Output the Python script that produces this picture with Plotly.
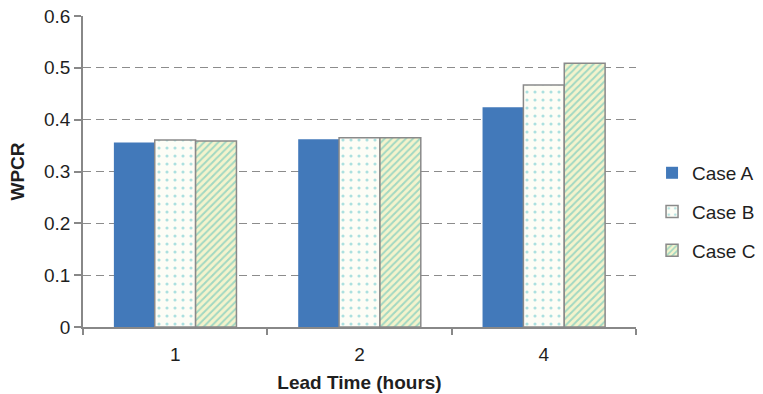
import plotly.graph_objects as go

categories = ["1", "2", "4"]
case_a = [0.356, 0.362, 0.424]
case_b = [0.361, 0.365, 0.467]
case_c = [0.359, 0.365, 0.509]
y_ticks = [0, 0.1, 0.2, 0.3, 0.4, 0.5, 0.6]
y_tick_text = ["0", "0.1", "0.2", "0.3", "0.4", "0.5", "0.6"]

FONT = "Liberation Sans, Arial, sans-serif"
TXT = "#1f1f1f"

fig = go.Figure()
fig.add_trace(go.Bar(
    name="Case A", x=categories, y=case_a, legendgroup="a",
    marker=dict(color="#4279BA", line=dict(width=0)),
))
fig.add_trace(go.Bar(
    name="Case B", x=categories, y=case_b, legendgroup="b",
    marker=dict(color="#FDFDF6", line=dict(color="#8A8A8A", width=1.5),
                pattern=dict(shape=".", fgcolor="#5CC3C8", bgcolor="#FDFDF6",
                             size=8, solidity=0.12)),
))
fig.add_trace(go.Bar(
    name="Case C", x=categories, y=case_c, legendgroup="c",
    marker=dict(color="#F4F3CC", line=dict(color="#8A8A8A", width=1.5),
                pattern=dict(shape="/", fgcolor="#4FBDB8", bgcolor="#F4F3CC",
                             size=5, solidity=0.4)),
))

fig.update_layout(
    width=763, height=394,
    margin=dict(l=83, r=127, t=16, b=67, autoexpand=False),
    paper_bgcolor="white", plot_bgcolor="white",
    barmode="group", bargap=0.335, bargroupgap=0,
    font=dict(family=FONT, size=20, color=TXT),
    showlegend=True,
    legend=dict(x=1.029, y=0.37, xanchor="left", yanchor="middle",
                font=dict(size=19, color=TXT),
                traceorder="grouped", tracegroupgap=11,
                itemwidth=30,
                bgcolor="rgba(0,0,0,0)"),
    xaxis=dict(
        type="category", tickson="boundaries", ticks="outside", ticklen=6,
        tickcolor="#888888", tickwidth=1.5,
        showline=True, linecolor="#888888", linewidth=1.5,
        showgrid=False, ticklabelstandoff=9, automargin=False,
        tickfont=dict(size=19, color=TXT),
        title=dict(text="<b>Lead Time (hours)</b>", font=dict(size=19, color=TXT),
                   standoff=12),
    ),
    yaxis=dict(
        range=[0, 0.6], tickvals=y_ticks, ticktext=y_tick_text,
        ticks="outside", ticklen=7, tickcolor="#888888", tickwidth=1.5,
        showline=True, linecolor="#888888", linewidth=1.5,
        showgrid=True, gridcolor="#8C8C8C", griddash="8px,5px", gridwidth=1.4,
        zeroline=False, automargin=False,
        tickfont=dict(size=19, color=TXT),
        title=dict(text="<b>WPCR</b>", font=dict(size=19, color=TXT),
                   standoff=14),
    ),
)

fig.write_html("out.html")
